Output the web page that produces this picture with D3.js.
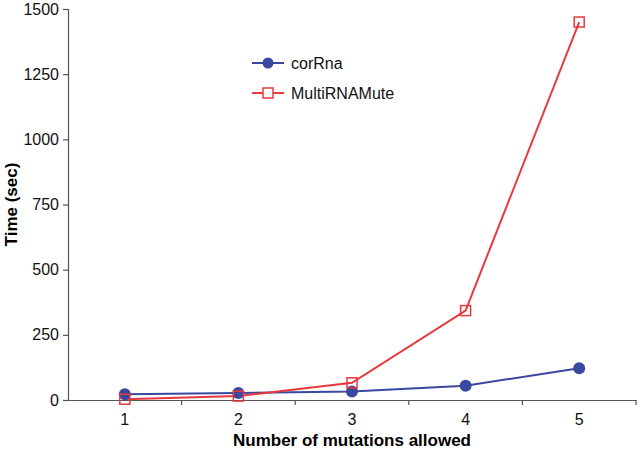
<!DOCTYPE html>
<html><head><meta charset="utf-8">
<script src="https://cdn.jsdelivr.net/npm/d3@7"></script>
<style>body{margin:0;background:#fff}</style>
</head><body>
<svg id="c" width="640" height="456"></svg>
<script>
const categories = ["1","2","3","4","5"];
const corRna = [22, 27, 33, 55, 122];
const multiRNAMute = [3, 15, 66, 343, 1450];
const yTicks = [0, 250, 500, 750, 1000, 1250, 1500];
const seriesNames = ["corRna", "MultiRNAMute"];

const svg = d3.select("#c");
const L = 68, R = 636, T = 9, B = 400;
const x = d3.scaleBand().domain(categories).range([L, R]);
const y = d3.scaleLinear().domain([0, 1500]).range([B, T]);
const font = "Liberation Sans, Arial, Helvetica, sans-serif";
const axisColor = "#555";
const blue = "#3a48a0", red = "#e8383d";

// Y axis
const ya = svg.append("g").attr("transform", `translate(${L},0)`)
  .call(d3.axisLeft(y).tickValues(yTicks).tickFormat(d3.format("d")).tickSize(5).tickPadding(4));
ya.select(".domain").attr("stroke", axisColor).attr("stroke-width", 1.2);
ya.selectAll(".tick line").attr("stroke", axisColor).attr("stroke-width", 1.2);
ya.selectAll("text").attr("font-family", font).attr("font-size", 16).attr("fill", "#111");

// X axis
const xa = svg.append("g").attr("transform", `translate(0,${B})`)
  .call(d3.axisBottom(x).tickSize(0).tickPadding(14));
xa.select(".domain").attr("stroke", axisColor).attr("stroke-width", 1.2);
xa.selectAll("text").attr("font-family", font).attr("font-size", 16).attr("fill", "#111");
// ticks at band boundaries
const bounds = categories.map(c => x(c) + x.bandwidth());
xa.selectAll(".bt").data(bounds).enter().append("line")
  .attr("x1", d => d).attr("x2", d => d).attr("y1", 0).attr("y2", 5)
  .attr("stroke", axisColor).attr("stroke-width", 1.2);

// titles
svg.append("text").attr("x", (L + R) / 2).attr("y", 446).attr("text-anchor", "middle")
  .attr("font-family", font).attr("font-weight", "bold").attr("font-size", 17)
  .text("Number of mutations allowed");
svg.append("text").attr("transform", `translate(17,${(T + B) / 2}) rotate(-90)`)
  .attr("text-anchor", "middle").attr("font-family", font).attr("font-weight", "bold")
  .attr("font-size", 17).text("Time (sec)");

const cx = c => x(c) + x.bandwidth() / 2;
const line = d3.line().x((d, i) => cx(categories[i])).y(d => y(d));

// corRna
svg.append("path").datum(corRna).attr("d", line).attr("fill", "none")
  .attr("stroke", blue).attr("stroke-width", 2);
// MultiRNAMute
svg.append("path").datum(multiRNAMute).attr("d", line).attr("fill", "none")
  .attr("stroke", red).attr("stroke-width", 2);

svg.selectAll(".pb").data(corRna).enter().append("circle")
  .attr("cx", (d, i) => cx(categories[i])).attr("cy", d => y(d)).attr("r", 6)
  .attr("fill", blue);
svg.selectAll(".pr").data(multiRNAMute).enter().append("rect")
  .attr("x", (d, i) => cx(categories[i]) - 5).attr("y", d => y(d) - 5)
  .attr("width", 10).attr("height", 10).attr("fill", "none")
  .attr("stroke", red).attr("stroke-width", 1.5);

// legend
const lg = svg.append("g");
const ly = [63, 93];
lg.append("line").attr("x1", 252).attr("x2", 284).attr("y1", ly[0]).attr("y2", ly[0])
  .attr("stroke", blue).attr("stroke-width", 2);
lg.append("circle").attr("cx", 268).attr("cy", ly[0]).attr("r", 5.5).attr("fill", blue);
lg.append("line").attr("x1", 252).attr("x2", 284).attr("y1", ly[1]).attr("y2", ly[1])
  .attr("stroke", red).attr("stroke-width", 2);
lg.append("rect").attr("x", 263).attr("y", ly[1] - 5).attr("width", 10).attr("height", 10)
  .attr("fill", "#fff").attr("stroke", red).attr("stroke-width", 1.5);
lg.selectAll(".lt").data(seriesNames).enter().append("text")
  .attr("x", 291).attr("y", (d, i) => ly[i] + 5.5)
  .attr("font-family", font).attr("font-size", 16).attr("fill", "#111").text(d => d);
</script>
</body></html>
